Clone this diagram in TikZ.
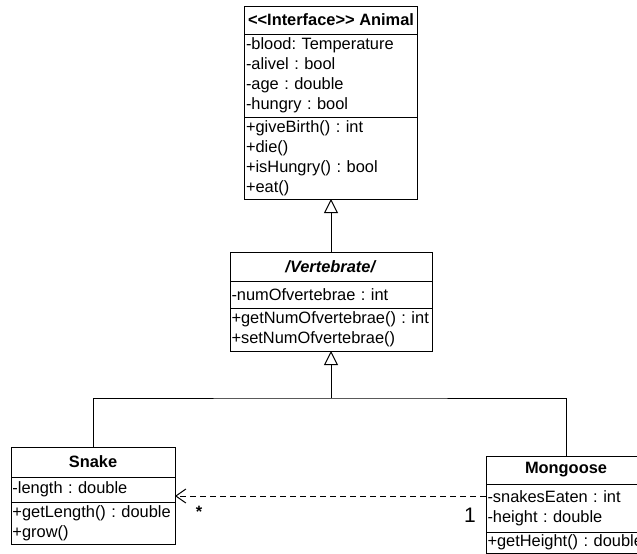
\documentclass[tikz,border=0pt]{standalone}
\usepackage{fontspec}
\setmainfont{Liberation Sans}
\usepackage{tikz}
\usetikzlibrary{arrows.meta,positioning}
\frenchspacing
\tikzset{
  umlhead/.style={draw, line width=1pt, outer sep=0pt, inner sep=1pt, align=center, font=\fontsize{16.4}{20}\selectfont\bfseries},
  umlpart/.style={draw, line width=1pt, outer sep=0pt, inner xsep=1.5pt, inner ysep=1pt, text width=#1, align=left, font=\fontsize{16.4}{20}\selectfont},
  gen/.style={-{Triangle[open, length=14pt, width=14pt]}, line width=1pt},
  dep/.style={-{Straight Barb[length=10pt, width=14pt]}, line width=1pt, dash pattern=on 6pt off 4pt},
  mult/.style={font=\fontsize{16.4}{20}\selectfont}
}

\begin{document}
\begin{tikzpicture}[x=1pt, y=-1pt]
    \useasboundingbox (0,0) rectangle (637,554);

    % Animal
    \node[umlhead, minimum width=173pt, minimum height=28pt, anchor=north west] (animal) at (244.5,6) {<{}<Interface>{}> Animal};
    \node[umlpart=170pt, minimum height=83pt, below=0pt of animal] (animal_attr) {-blood: Temperature\\-alivel : bool\\-age : double\\-hungry : bool};
    \node[umlpart=170pt, minimum height=82pt, below=0pt of animal_attr] (animal_ops) {+giveBirth() : int\\+die()\\+isHungry() : bool\\+eat()};

    % Vertebrate
    \node[umlhead, minimum width=202pt, minimum height=29pt, below=53pt of animal_ops] (vert) {\textit{/Vertebrate/}};
    \node[umlpart=199pt, minimum height=27pt, below=0pt of vert] (vert_attr) {-numOfvertebrae : int};
    \node[umlpart=199pt, minimum height=43pt, below=0pt of vert_attr] (vert_ops) {+getNumOfvertebrae()~:~int\\+setNumOfvertebrae()};
    \draw[gen] (vert) -- (animal_ops);

    % Split
    \coordinate[below=47pt of vert_ops] (join);

    % Snake
    \node[umlhead, minimum width=164pt, minimum height=30pt, anchor=north west] (snake) at (11,447) {Snake};
    \node[umlpart=161pt, minimum height=25pt, below=0pt of snake] (snake_attr) {-length : double};
    \node[umlpart=161pt, minimum height=42pt, below=0pt of snake_attr] (snake_ops) {+getLength()~:~double\\+grow()};

    % Mongoose
    \node[umlhead, minimum width=160pt, minimum height=28pt, anchor=north west] (mongoose) at (486,456) {Mongoose};
    \node[umlpart=157pt, minimum height=48pt, below=0pt of mongoose] (mong_attr) {-snakesEaten : int\\-height : double};
    \node[umlpart=157pt, minimum height=21pt, below=0pt of mong_attr] (mong_ops) {+getHeight()~:~double};

    \draw[line width=1pt] (snake) |- (join) -| (mongoose);
    \draw[gen] (join) -- (vert_ops);

    % Dependency
    \draw[dep] ([yshift=-12pt]mong_attr.north west) coordinate (dep_from) -- (dep_from -| snake_attr.east);
    \node[mult, font=\fontsize{16.4}{20}\selectfont\bfseries] (mult_snake) at (199,511.5) {*};
    \node[mult, font=\fontsize{21}{24}\selectfont] (mult_mong) at (470,515) {1};

\end{tikzpicture}
\end{document}
